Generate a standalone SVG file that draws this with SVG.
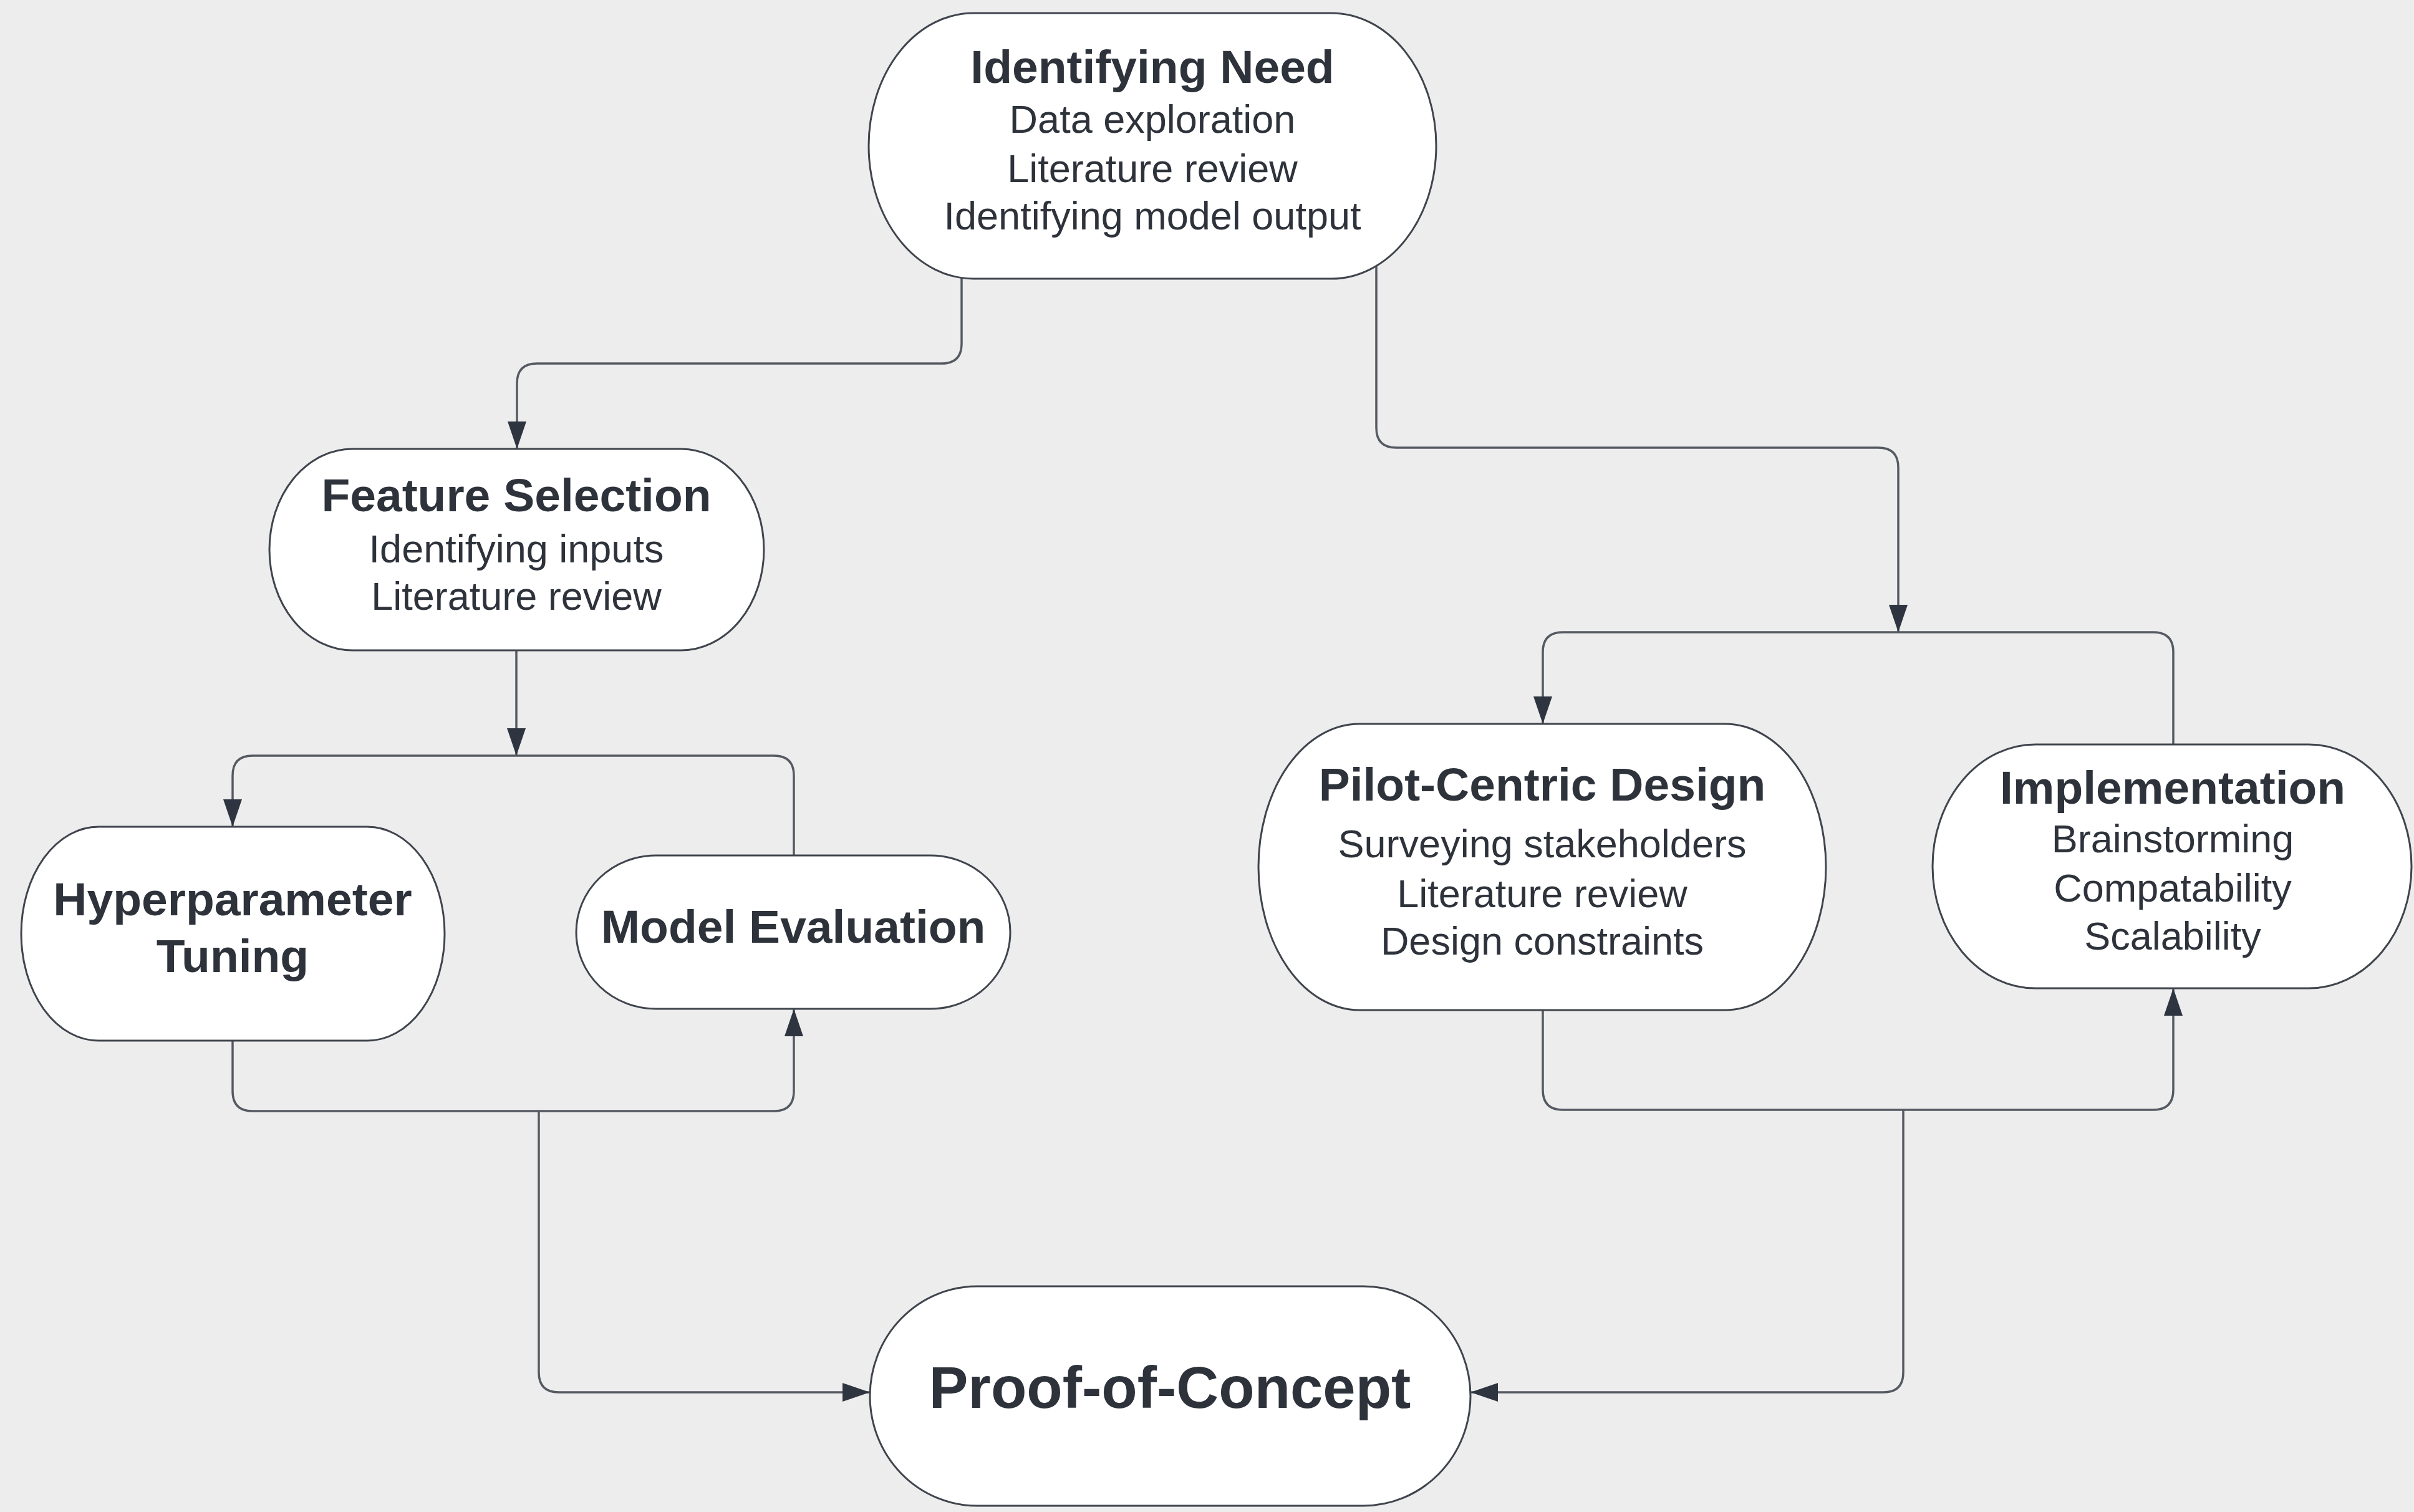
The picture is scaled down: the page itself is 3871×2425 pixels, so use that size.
<svg xmlns="http://www.w3.org/2000/svg" width="3871" height="2425" viewBox="0 0 3871 2425">
  <defs>
    <style>
      .node rect { fill: #ffffff; stroke: #40454d; stroke-width: 3; }
      .title { font-family: "Liberation Sans", Arial, sans-serif; font-weight: bold; font-size: 75px; fill: #2e333b; text-anchor: middle; }
      .big { font-size: 94px; }
      .sub { font-family: "Liberation Sans", Arial, sans-serif; font-size: 63px; fill: #2e333b; text-anchor: middle; }
      .conn path { fill: none; stroke: #555a62; stroke-width: 3.5; }
    </style>
    <marker id="arrow" markerUnits="userSpaceOnUse" markerWidth="46" markerHeight="32" refX="44" refY="15" orient="auto">
      <path d="M0 0 L44 15 L0 30 Z" fill="#2f3540"/>
    </marker>
  </defs>

  <rect x="0" y="0" width="3871" height="2425" fill="#ededed"/>

  <!-- connectors -->
  <g id="connectors" class="conn">
    <path d="M1542 446 V551 Q1542 583 1510 583 H861 Q829 583 829 615 V720" marker-end="url(#arrow)"/>
    <path d="M2207 424 V686 Q2207 718 2239 718 H3012 Q3044 718 3044 750 V1014" marker-end="url(#arrow)"/>
    <path d="M3485 1194 V1046 Q3485 1014 3453 1014 H2506 Q2474 1014 2474 1046 V1161" marker-end="url(#arrow)"/>
    <path d="M828 1043 V1212" marker-end="url(#arrow)"/>
    <path d="M1273 1372 V1244 Q1273 1212 1241 1212 H405 Q373 1212 373 1244 V1326" marker-end="url(#arrow)"/>
    <path d="M373 1669 V1750 Q373 1782 405 1782 H1241 Q1273 1782 1273 1750 V1618" marker-end="url(#arrow)"/>
    <path d="M864 1782 V2201 Q864 2233 896 2233 H1395" marker-end="url(#arrow)"/>
    <path d="M2474 1620 V1748 Q2474 1780 2506 1780 H3453 Q3485 1780 3485 1748 V1585" marker-end="url(#arrow)"/>
    <path d="M3052 1780 V2201 Q3052 2233 3020 2233 H2358" marker-end="url(#arrow)"/>
  </g>

  <!-- nodes -->
  <g id="identifying-need" class="node">
    <rect x="1393" y="21" width="910" height="426" rx="168" ry="213"/>
    <text class="title" x="1848" y="133">Identifying Need</text>
    <text class="sub" x="1848" y="213">Data exploration</text>
    <text class="sub" x="1848" y="292">Literature review</text>
    <text class="sub" x="1848" y="368">Identifying model output</text>
  </g>

  <g id="feature-selection" class="node">
    <rect x="432" y="720" width="793" height="323" rx="133" ry="161.5"/>
    <text class="title" x="828" y="820">Feature Selection</text>
    <text class="sub" x="828" y="902">Identifying inputs</text>
    <text class="sub" x="828" y="978">Literature review</text>
  </g>

  <g id="hyperparameter-tuning" class="node">
    <rect x="34" y="1326" width="679" height="343" rx="124" ry="171.5"/>
    <text class="title" x="373" y="1468">Hyperparameter</text>
    <text class="title" x="373" y="1559">Tuning</text>
  </g>

  <g id="model-evaluation" class="node">
    <rect x="924" y="1372" width="696" height="246" rx="128" ry="123"/>
    <text class="title" x="1272" y="1512">Model Evaluation</text>
  </g>

  <g id="pilot-centric-design" class="node">
    <rect x="2018" y="1161" width="910" height="459" rx="162" ry="229.5"/>
    <text class="title" x="2473" y="1284">Pilot-Centric Design</text>
    <text class="sub" x="2473" y="1375">Surveying stakeholders</text>
    <text class="sub" x="2473" y="1455">Literature review</text>
    <text class="sub" x="2473" y="1531">Design constraints</text>
  </g>

  <g id="implementation" class="node">
    <rect x="3099" y="1194" width="768" height="391" rx="165" ry="195.5"/>
    <text class="title" x="3484" y="1289">Implementation</text>
    <text class="sub" x="3484" y="1367">Brainstorming</text>
    <text class="sub" x="3484" y="1446">Compatability</text>
    <text class="sub" x="3484" y="1523">Scalability</text>
  </g>

  <g id="proof-of-concept" class="node">
    <rect x="1395" y="2063" width="963" height="352" rx="172" ry="176"/>
    <text class="title big" x="1876" y="2258">Proof-of-Concept</text>
  </g>
</svg>
